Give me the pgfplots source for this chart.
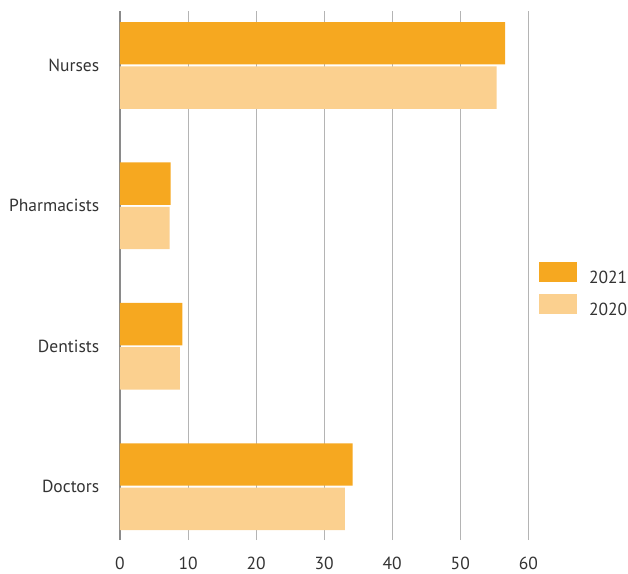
\documentclass[border=0pt]{standalone}
\usepackage{pgfplots}
\pgfplotsset{compat=1.18}
\usepackage{fontspec}
\setmainfont{PT Sans}
\definecolor{dark}{HTML}{F6A820}
\definecolor{light}{HTML}{FBD08F}
\definecolor{txt}{HTML}{333333}
\definecolor{gridc}{HTML}{B4B4B4}
\definecolor{axisc}{HTML}{8A8A8A}
\begin{document}
\begin{tikzpicture}
\useasboundingbox (-120pt,-33pt) rectangle (508pt,540pt);
\begin{axis}[
  scale only axis, width=408.3pt, height=529pt,
  xmin=0, xmax=60, ymin=-0.380, ymax=3.388,
  xtick={0,10,...,60}, ytick={0,1,2,3},
  yticklabels={Doctors,Dentists,Pharmacists,Nurses},
  axis lines=left,
  axis line style={-},
  x axis line style={draw=none},
  y axis line style={draw=axisc, line width=1.2pt},
  tick style={draw=none},
  xmajorgrids, grid style={draw=gridc, line width=0.9pt},
  tick label style={font=\fontsize{17.5}{21}\selectfont, text=txt},
  /pgf/number format/assume math mode=true,
  xticklabel style={yshift=-11.5pt},
  yticklabel style={xshift=-13pt},
  xbar, bar width=0.302,
  legend style={at={(1.0262,0.525)}, anchor=north west, draw=none, fill=none,
    inner sep=0pt, outer sep=0pt, row sep=9.3pt,
    font=\fontsize{17.5}{21}\selectfont, text=txt, nodes={inner sep=0pt}},
  legend cell align=left,
  /tikz/every odd column/.append style={column sep=12.3pt},
  legend image code/.code={\path[#1,draw=none] (0pt,-3.6pt) rectangle (37.7pt,15.8pt);},
]
\addplot[fill=dark, draw=none, bar shift=0.158] coordinates {(34.2,0) (9.15,1) (7.45,2) (56.6,3)};
\addplot[fill=light, draw=none, bar shift=-0.158] coordinates {(33.05,0) (8.8,1) (7.3,2) (55.35,3)};
\legend{2021,2020}
\end{axis}
\end{tikzpicture}
\end{document}
